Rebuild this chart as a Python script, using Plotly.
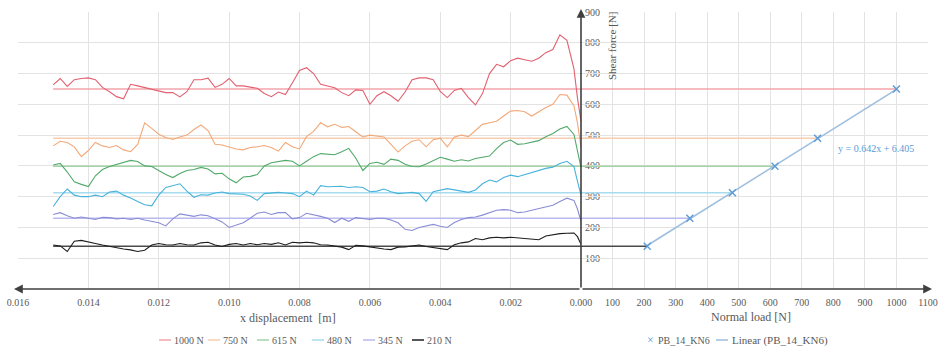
import plotly.graph_objects as go

# Displacement samples [m], from the start of the run (0.015) to the end (0.000)
disp = [
    0.0150, 0.0148, 0.0146, 0.0144, 0.0142,
    0.0140, 0.0138, 0.0136, 0.0134, 0.0132,
    0.0130, 0.0128, 0.0126, 0.0124, 0.0122,
    0.0120, 0.0118, 0.0116, 0.0114, 0.0112,
    0.0110, 0.0108, 0.0106, 0.0104, 0.0102,
    0.0100, 0.0098, 0.0096, 0.0094, 0.0092,
    0.0090, 0.0088, 0.0086, 0.0084, 0.0082,
    0.0080, 0.0078, 0.0076, 0.0074, 0.0072,
    0.0070, 0.0068, 0.0066, 0.0064, 0.0062,
    0.0060, 0.0058, 0.0056, 0.0054, 0.0052,
    0.0050, 0.0048, 0.0046, 0.0044, 0.0042,
    0.0040, 0.0038, 0.0036, 0.0034, 0.0032,
    0.0030, 0.0028, 0.0026, 0.0024, 0.0022,
    0.0020, 0.0018, 0.0016, 0.0014, 0.0012,
    0.0010, 0.0008, 0.0006, 0.0004, 0.0002,
    0.0001, 0.0000,
]

# Shear force [N] for each normal load
shear_1000 = [
    663, 684, 658, 680, 684, 686, 680, 655, 641, 625,
    618, 665, 660, 655, 650, 645, 638, 638, 624, 641,
    680, 680, 685, 655, 665, 684, 660, 660, 655, 652,
    635, 625, 640, 632, 670, 710, 719, 700, 665, 660,
    654, 638, 628, 647, 645, 600, 628, 641, 628, 610,
    640, 680, 686, 686, 680, 642, 622, 645, 652, 622,
    598, 635, 700, 730, 722, 742, 750, 745, 740, 750,
    768, 778, 826, 808, 715, 620, 545,
]
shear_750 = [
    465, 480, 476, 462, 430, 450, 476, 465, 460, 466,
    452, 446, 470, 540, 522, 503, 492, 486, 494, 500,
    518, 533, 515, 470, 468, 462, 455, 452, 460, 462,
    466, 460, 448, 476, 462, 455, 495, 512, 540, 527,
    535, 525, 528, 511, 494, 500, 497, 494, 470, 445,
    465, 480, 485, 462, 485, 490, 462, 494, 500, 495,
    515, 535, 540, 545, 562, 578, 580, 576, 562, 576,
    590, 600, 632, 630, 595, 540, 460,
]
shear_615 = [
    403, 408, 380, 348, 340, 333, 368, 388, 398, 405,
    410, 418, 414, 400, 398, 385, 372, 362, 375, 385,
    388, 395, 390, 374, 376, 358, 345, 364, 366, 372,
    400, 410, 414, 418, 415, 400, 415, 430, 440, 438,
    436, 446, 457, 425, 385, 408, 412, 405, 422, 418,
    405, 398, 397, 406, 418, 428, 422, 415, 420, 416,
    424, 428, 432, 456, 476, 484, 470, 472, 478, 482,
    495, 505, 520, 528, 502, 445, 395,
]
shear_480 = [
    268, 300, 325, 305, 300, 300, 305, 300, 315, 318,
    305, 296, 284, 274, 270, 305, 330, 336, 342, 318,
    298, 306, 305, 312, 315, 310, 310, 308, 302, 288,
    310, 312, 314, 312, 310, 300, 318, 305, 336, 332,
    332, 334, 330, 332, 330, 316, 318, 325, 316, 310,
    312, 314, 310, 285, 316, 322, 326, 322, 318, 314,
    322, 342, 354, 348, 362, 370, 365, 372, 378, 384,
    392, 396, 408, 415, 398, 350, 305,
]
shear_345 = [
    242, 248, 238, 230, 234, 230, 226, 233, 232, 228,
    230, 226, 230, 224, 220, 215, 205, 228, 244, 240,
    236, 241, 238, 228, 218, 200, 208, 215, 230, 246,
    250, 242, 248, 248, 228, 232, 246, 242, 236, 230,
    216, 230, 220, 232, 230, 226, 230, 230, 224, 215,
    194, 190, 200, 206, 210, 204, 200, 216, 226, 232,
    234, 240, 248, 256, 258, 256, 248, 250, 256, 262,
    266, 272, 284, 295, 288, 260, 220,
]
shear_210 = [
    143, 140, 122, 155, 158, 154, 148, 143, 138, 134,
    130, 127, 122, 126, 143, 148, 144, 143, 148, 144,
    143, 150, 152, 143, 138, 145, 148, 143, 148, 144,
    148, 145, 150, 143, 152, 150, 152, 150, 144, 143,
    140, 136, 128, 142, 140, 136, 134, 130, 128, 136,
    137, 140, 143, 138, 135, 133, 128, 144, 150, 153,
    164, 160, 166, 168, 166, 168, 166, 166, 164, 160,
    172, 176, 180, 181, 182, 170, 145,
]

normal_load = [1000, 750, 615, 480, 345, 210]
series_names = ["1000 N", "750 N", "615 N", "480 N", "345 N", "210 N"]
mean_shear = [650, 490, 399, 313, 230, 139]
fit_slope, fit_intercept = 0.642, 6.405

x_right_ticks = [100, 200, 300, 400, 500, 600, 700, 800, 900, 1000, 1100]
y_ticks = [100, 200, 300, 400, 500, 600, 700, 800, 900]

shear_series = [shear_1000, shear_750, shear_615, shear_480, shear_345, shear_210]
line_colors = ["#E2606F", "#F2A878", "#52A96A", "#47B2DA", "#8A8CD6", "#1E1E1E"]
mean_colors = ["#F3A3AC", "#F8CCAE", "#A3D3A8", "#A6DCF0", "#B9BAF0", "#4A4A4A"]
fit_color = "#9DBEDD"
marker_color = "#5B9BD5"

FONT = "Liberation Serif"
GREY = "#595959"
W, H = 939, 346
ML, MR, MT, MB = 18, 11, 12, 57
PW = W - ML - MR
PH = H - MT - MB
SPLIT = 563 / PW  # share of width given to the displacement panel


def px_x(p):
    return (p - ML) / PW


def px_y(p):
    return (H - MB - p) / PH


fig = go.Figure()

# Mean shear level of each run, carried across to its normal load
for load, m, col in zip(normal_load, mean_shear, mean_colors):
    fig.add_trace(go.Scatter(x=[disp[0], disp[-1]], y=[m, m], xaxis="x", yaxis="y",
                             mode="lines", line=dict(color=col, width=1.5),
                             showlegend=False, hoverinfo="skip"))
    fig.add_trace(go.Scatter(x=[0, load], y=[m, m], xaxis="x2", yaxis="y",
                             mode="lines", line=dict(color=col, width=1.5),
                             showlegend=False, hoverinfo="skip"))

# Shear force curves
for name, ys, col in zip(series_names, shear_series, line_colors):
    fig.add_trace(go.Scatter(x=disp, y=ys, xaxis="x", yaxis="y", name=name,
                             mode="lines", line=dict(color=col, width=1.1),
                             showlegend=False))

# Linear trend of mean shear vs normal load
fit_x = [min(normal_load), max(normal_load)]
fit_y = [fit_slope * v + fit_intercept for v in fit_x]
fig.add_trace(go.Scatter(x=fit_x, y=fit_y, xaxis="x2", yaxis="y",
                         name="Linear (PB_14_KN6)", mode="lines",
                         line=dict(color=fit_color, width=1.6), showlegend=False))
fig.add_trace(go.Scatter(x=normal_load, y=mean_shear, xaxis="x2", yaxis="y",
                         name="PB_14_KN6", mode="markers",
                         marker=dict(symbol="x-thin", size=7,
                                     line=dict(color=marker_color, width=1.4)),
                         showlegend=False))

tick_font = dict(family=FONT, size=10, color=GREY)
grid = "#E3E3E3"

fig.update_layout(
    width=W, height=H,
    margin=dict(l=ML, r=MR, t=MT, b=MB, autoexpand=False),
    paper_bgcolor="white", plot_bgcolor="white",
    font=dict(family=FONT, color=GREY),
    hovermode=False,
    xaxis=dict(domain=[0, SPLIT], range=[0.016, 0], anchor="y", automargin=False,
               tickmode="linear", tick0=0, dtick=0.002, tickformat=".3f",
               showgrid=True, gridcolor=grid, gridwidth=1,
               zeroline=False, showline=False, ticks="", tickfont=tick_font,
               ticklabelstandoff=6),
    xaxis2=dict(domain=[SPLIT, 1], range=[0, 1100], anchor="y", automargin=False,
                tickvals=x_right_ticks, showgrid=True, gridcolor=grid, gridwidth=1,
                zeroline=False, showline=False, ticks="", tickfont=tick_font,
                ticklabelstandoff=6),
    yaxis=dict(domain=[0, 1], range=[0, 900], anchor="x", side="right",
               automargin=False,
               tickvals=y_ticks, showgrid=True, gridcolor=grid, gridwidth=1,
               zeroline=False, showline=False, ticks="", tickfont=tick_font,
               ticklabelstandoff=3),
)

ann = []
axis_col = "#404040"
# Axis lines with arrowheads
ann.append(dict(x=px_x(14), y=0, xref="paper", yref="paper", ax=581 - 14, ay=0,
                text="", showarrow=True, arrowhead=2, arrowsize=1.1,
                arrowwidth=1.6, arrowcolor=axis_col, standoff=0))
ann.append(dict(x=px_x(932), y=0, xref="paper", yref="paper", ax=581 - 932, ay=0,
                text="", showarrow=True, arrowhead=2, arrowsize=1.1,
                arrowwidth=1.6, arrowcolor=axis_col, standoff=0))
ann.append(dict(x=SPLIT, y=px_y(9), xref="paper", yref="paper", ax=0, ay=289 - 9,
                text="", showarrow=True, arrowhead=2, arrowsize=1.1,
                arrowwidth=1.6, arrowcolor=axis_col, standoff=0))

# Axis titles
ann.append(dict(x=px_x(288), y=px_y(318), xref="paper", yref="paper",
                xanchor="center", yanchor="middle",
                text="x displacement  [m]", showarrow=False,
                font=dict(family=FONT, size=12, color=GREY)))
ann.append(dict(x=px_x(751), y=px_y(317), xref="paper", yref="paper",
                xanchor="center", yanchor="middle",
                text="Normal load [N]", showarrow=False,
                font=dict(family=FONT, size=12, color=GREY)))
ann.append(dict(x=px_x(612), y=px_y(46), xref="paper", yref="paper",
                xanchor="center", yanchor="middle",
                text="Shear force [N]", textangle=-90, showarrow=False,
                font=dict(family=FONT, size=11, color=GREY)))

# Trend equation
ann.append(dict(x=px_x(836), y=px_y(148), xref="paper", yref="paper",
                xanchor="left", yanchor="middle",
                text=f"y = {fit_slope}x + {fit_intercept}",
                showarrow=False, font=dict(family=FONT, size=10, color=marker_color)))

# Legend rows
shapes = []
leg_y = px_y(340)
leg_font = dict(family=FONT, size=10, color=GREY)
left_starts = [159, 208, 257, 312, 363, 412]
legend_dash = mean_colors[:5] + [line_colors[5]]
for start, name, col in zip(left_starts, series_names, legend_dash):
    shapes.append(dict(type="line", xref="paper", yref="paper",
                       x0=px_x(start), x1=px_x(start + 12), y0=leg_y, y1=leg_y,
                       line=dict(color=col, width=1.5)))
    ann.append(dict(x=px_x(start + 13), y=leg_y, xref="paper", yref="paper",
                    xanchor="left", yanchor="middle", text=name, showarrow=False,
                    font=leg_font))

ann.append(dict(x=px_x(650), y=leg_y, xref="paper", yref="paper",
                xanchor="center", yanchor="middle", text="×", showarrow=False,
                font=dict(family=FONT, size=12, color=marker_color)))
ann.append(dict(x=px_x(656), y=leg_y, xref="paper", yref="paper",
                xanchor="left", yanchor="middle", text="PB_14_KN6", showarrow=False,
                font=leg_font))
shapes.append(dict(type="line", xref="paper", yref="paper",
                   x0=px_x(716), x1=px_x(728), y0=leg_y, y1=leg_y,
                   line=dict(color=fit_color, width=1.5)))
ann.append(dict(x=px_x(730), y=leg_y, xref="paper", yref="paper",
                xanchor="left", yanchor="middle", text="Linear (PB_14_KN6)",
                showarrow=False, font=dict(family=FONT, size=11, color=GREY)))

fig.update_layout(annotations=ann, shapes=shapes)

fig.write_html("out.html")
